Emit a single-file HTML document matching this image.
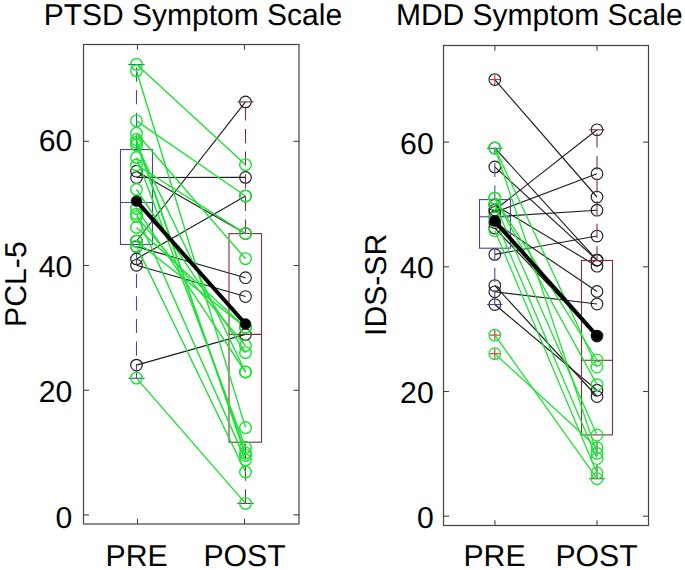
<!DOCTYPE html>
<html><head><meta charset="utf-8"><style>
html,body{margin:0;padding:0;background:#fff;}
body{width:685px;height:570px;overflow:hidden;}
svg{display:block;font-family:"Liberation Sans", sans-serif;text-rendering:geometricPrecision;}
</style></head><body>
<svg width="685" height="570" viewBox="0 0 685 570">
<rect width="685" height="570" fill="#fff"/>
<rect x="83.50" y="44.50" width="215.50" height="479.50" fill="none" stroke="#444444" stroke-width="1.2"/>
<line x1="83.50" y1="514.90" x2="89.00" y2="514.90" stroke="#444444" stroke-width="1.1" />
<line x1="299.00" y1="514.90" x2="293.50" y2="514.90" stroke="#444444" stroke-width="1.1" />
<text x="72.30" y="527.50" font-size="30.2" text-anchor="end" >0</text>
<line x1="83.50" y1="390.30" x2="89.00" y2="390.30" stroke="#444444" stroke-width="1.1" />
<line x1="299.00" y1="390.30" x2="293.50" y2="390.30" stroke="#444444" stroke-width="1.1" />
<text x="72.30" y="402.00" font-size="30.2" text-anchor="end" >20</text>
<line x1="83.50" y1="265.50" x2="89.00" y2="265.50" stroke="#444444" stroke-width="1.1" />
<line x1="299.00" y1="265.50" x2="293.50" y2="265.50" stroke="#444444" stroke-width="1.1" />
<text x="72.30" y="276.90" font-size="30.2" text-anchor="end" >40</text>
<line x1="83.50" y1="141.30" x2="89.00" y2="141.30" stroke="#444444" stroke-width="1.1" />
<line x1="299.00" y1="141.30" x2="293.50" y2="141.30" stroke="#444444" stroke-width="1.1" />
<text x="72.30" y="151.25" font-size="30.2" text-anchor="end" >60</text>
<line x1="137.50" y1="524.00" x2="137.50" y2="518.80" stroke="#444444" stroke-width="1.1" />
<line x1="137.50" y1="44.50" x2="137.50" y2="49.70" stroke="#444444" stroke-width="1.1" />
<text x="136.60" y="565.90" font-size="30.2" text-anchor="middle" >PRE</text>
<line x1="244.50" y1="524.00" x2="244.50" y2="518.80" stroke="#444444" stroke-width="1.1" />
<line x1="244.50" y1="44.50" x2="244.50" y2="49.70" stroke="#444444" stroke-width="1.1" />
<text x="244.50" y="565.90" font-size="30.2" text-anchor="middle" >POST</text>
<line x1="136.50" y1="241.00" x2="245.50" y2="101.90" stroke="#1e1e1e" stroke-width="1.15" />
<circle cx="136.50" cy="241.00" r="5.8" stroke="#1e1e1e" stroke-width="1.15" fill="none"/>
<circle cx="245.50" cy="101.90" r="5.8" stroke="#1e1e1e" stroke-width="1.15" fill="none"/>
<line x1="136.50" y1="177.50" x2="245.50" y2="177.40" stroke="#1e1e1e" stroke-width="1.15" />
<circle cx="136.50" cy="177.50" r="5.8" stroke="#1e1e1e" stroke-width="1.15" fill="none"/>
<circle cx="245.50" cy="177.40" r="5.8" stroke="#1e1e1e" stroke-width="1.15" fill="none"/>
<line x1="136.50" y1="171.20" x2="245.50" y2="233.60" stroke="#1e1e1e" stroke-width="1.15" />
<circle cx="136.50" cy="171.20" r="5.8" stroke="#1e1e1e" stroke-width="1.15" fill="none"/>
<circle cx="245.50" cy="233.60" r="5.8" stroke="#1e1e1e" stroke-width="1.15" fill="none"/>
<line x1="136.50" y1="246.60" x2="245.50" y2="277.70" stroke="#1e1e1e" stroke-width="1.15" />
<circle cx="136.50" cy="246.60" r="5.8" stroke="#1e1e1e" stroke-width="1.15" fill="none"/>
<circle cx="245.50" cy="277.70" r="5.8" stroke="#1e1e1e" stroke-width="1.15" fill="none"/>
<line x1="136.50" y1="265.30" x2="245.50" y2="296.50" stroke="#1e1e1e" stroke-width="1.15" />
<circle cx="136.50" cy="265.30" r="5.8" stroke="#1e1e1e" stroke-width="1.15" fill="none"/>
<circle cx="245.50" cy="296.50" r="5.8" stroke="#1e1e1e" stroke-width="1.15" fill="none"/>
<line x1="136.50" y1="258.90" x2="245.50" y2="196.00" stroke="#1e1e1e" stroke-width="1.15" />
<circle cx="136.50" cy="258.90" r="5.8" stroke="#1e1e1e" stroke-width="1.15" fill="none"/>
<circle cx="245.50" cy="196.00" r="5.8" stroke="#1e1e1e" stroke-width="1.15" fill="none"/>
<line x1="136.50" y1="365.10" x2="245.50" y2="334.40" stroke="#1e1e1e" stroke-width="1.15" />
<circle cx="136.50" cy="365.10" r="5.8" stroke="#1e1e1e" stroke-width="1.15" fill="none"/>
<circle cx="245.50" cy="334.40" r="5.8" stroke="#1e1e1e" stroke-width="1.15" fill="none"/>
<path d="M136.50 149.50 L136.50 64.50" stroke="#4a4a92" stroke-width="1.1" fill="none" stroke-dasharray="14.2 8.4"/>
<path d="M136.50 378.30 L136.50 244.50" stroke="#4a4a92" stroke-width="1.1" fill="none" stroke-dasharray="14.2 8.4"/>
<line x1="128.40" y1="64.50" x2="144.60" y2="64.50" stroke="#4a4a92" stroke-width="1.1" />
<line x1="128.40" y1="378.30" x2="144.60" y2="378.30" stroke="#4a4a92" stroke-width="1.1" />
<rect x="120.50" y="149.50" width="32.00" height="95.00" fill="none" stroke="#4a4a92" stroke-width="1.1"/>
<line x1="120.50" y1="202.50" x2="152.50" y2="202.50" stroke="#4a4a92" stroke-width="1.1" />
<path d="M245.50 233.60 L245.50 101.90" stroke="#7c3040" stroke-width="1.1" fill="none" stroke-dasharray="14.2 8.4"/>
<path d="M245.50 503.40 L245.50 442.20" stroke="#7c3040" stroke-width="1.1" fill="none" stroke-dasharray="14.2 8.4"/>
<line x1="237.40" y1="101.90" x2="253.60" y2="101.90" stroke="#7c3040" stroke-width="1.1" />
<line x1="237.40" y1="503.40" x2="253.60" y2="503.40" stroke="#7c3040" stroke-width="1.1" />
<rect x="229.00" y="233.60" width="32.50" height="208.60" fill="none" stroke="#7c3040" stroke-width="1.1"/>
<line x1="229.00" y1="334.40" x2="261.50" y2="334.40" stroke="#7c3040" stroke-width="1.1" />
<line x1="136.50" y1="64.30" x2="245.50" y2="164.70" stroke="rgb(28,226,52)" stroke-width="1.4" />
<circle cx="136.50" cy="64.30" r="5.8" stroke="rgb(28,226,52)" stroke-width="1.4" fill="none"/>
<circle cx="245.50" cy="164.70" r="5.8" stroke="rgb(28,226,52)" stroke-width="1.4" fill="none"/>
<line x1="136.50" y1="70.80" x2="245.50" y2="427.60" stroke="rgb(28,226,52)" stroke-width="1.4" />
<circle cx="136.50" cy="70.80" r="5.8" stroke="rgb(28,226,52)" stroke-width="1.4" fill="none"/>
<circle cx="245.50" cy="427.60" r="5.8" stroke="rgb(28,226,52)" stroke-width="1.4" fill="none"/>
<line x1="136.50" y1="120.90" x2="245.50" y2="196.00" stroke="rgb(28,226,52)" stroke-width="1.4" />
<circle cx="136.50" cy="120.90" r="5.8" stroke="rgb(28,226,52)" stroke-width="1.4" fill="none"/>
<circle cx="245.50" cy="196.00" r="5.8" stroke="rgb(28,226,52)" stroke-width="1.4" fill="none"/>
<line x1="136.50" y1="133.30" x2="245.50" y2="258.70" stroke="rgb(28,226,52)" stroke-width="1.4" />
<circle cx="136.50" cy="133.30" r="5.8" stroke="rgb(28,226,52)" stroke-width="1.4" fill="none"/>
<circle cx="245.50" cy="258.70" r="5.8" stroke="rgb(28,226,52)" stroke-width="1.4" fill="none"/>
<line x1="136.50" y1="165.00" x2="245.50" y2="233.60" stroke="rgb(28,226,52)" stroke-width="1.4" />
<circle cx="136.50" cy="165.00" r="5.8" stroke="rgb(28,226,52)" stroke-width="1.4" fill="none"/>
<circle cx="245.50" cy="233.60" r="5.8" stroke="rgb(28,226,52)" stroke-width="1.4" fill="none"/>
<line x1="136.50" y1="378.10" x2="245.50" y2="503.40" stroke="rgb(28,226,52)" stroke-width="1.4" />
<circle cx="136.50" cy="378.10" r="5.8" stroke="rgb(28,226,52)" stroke-width="1.4" fill="none"/>
<circle cx="245.50" cy="503.40" r="5.8" stroke="rgb(28,226,52)" stroke-width="1.4" fill="none"/>
<line x1="136.50" y1="139.60" x2="245.50" y2="455.40" stroke="rgb(28,226,52)" stroke-width="1.4" />
<circle cx="136.50" cy="139.60" r="5.8" stroke="rgb(28,226,52)" stroke-width="1.4" fill="none"/>
<circle cx="245.50" cy="455.40" r="5.8" stroke="rgb(28,226,52)" stroke-width="1.4" fill="none"/>
<line x1="136.50" y1="142.30" x2="245.50" y2="452.90" stroke="rgb(28,226,52)" stroke-width="1.4" />
<circle cx="136.50" cy="142.30" r="5.8" stroke="rgb(28,226,52)" stroke-width="1.4" fill="none"/>
<circle cx="245.50" cy="452.90" r="5.8" stroke="rgb(28,226,52)" stroke-width="1.4" fill="none"/>
<line x1="136.50" y1="145.10" x2="245.50" y2="372.00" stroke="rgb(28,226,52)" stroke-width="1.4" />
<circle cx="136.50" cy="145.10" r="5.8" stroke="rgb(28,226,52)" stroke-width="1.4" fill="none"/>
<circle cx="245.50" cy="372.00" r="5.8" stroke="rgb(28,226,52)" stroke-width="1.4" fill="none"/>
<line x1="136.50" y1="157.50" x2="245.50" y2="447.30" stroke="rgb(28,226,52)" stroke-width="1.4" />
<circle cx="136.50" cy="157.50" r="5.8" stroke="rgb(28,226,52)" stroke-width="1.4" fill="none"/>
<circle cx="245.50" cy="447.30" r="5.8" stroke="rgb(28,226,52)" stroke-width="1.4" fill="none"/>
<line x1="136.50" y1="214.00" x2="245.50" y2="459.90" stroke="rgb(28,226,52)" stroke-width="1.4" />
<circle cx="136.50" cy="214.00" r="5.8" stroke="rgb(28,226,52)" stroke-width="1.4" fill="none"/>
<circle cx="245.50" cy="459.90" r="5.8" stroke="rgb(28,226,52)" stroke-width="1.4" fill="none"/>
<line x1="136.50" y1="208.40" x2="245.50" y2="372.00" stroke="rgb(28,226,52)" stroke-width="1.4" />
<circle cx="136.50" cy="208.40" r="5.8" stroke="rgb(28,226,52)" stroke-width="1.4" fill="none"/>
<circle cx="245.50" cy="372.00" r="5.8" stroke="rgb(28,226,52)" stroke-width="1.4" fill="none"/>
<line x1="136.50" y1="189.50" x2="245.50" y2="352.70" stroke="rgb(28,226,52)" stroke-width="1.4" />
<circle cx="136.50" cy="189.50" r="5.8" stroke="rgb(28,226,52)" stroke-width="1.4" fill="none"/>
<circle cx="245.50" cy="352.70" r="5.8" stroke="rgb(28,226,52)" stroke-width="1.4" fill="none"/>
<line x1="136.50" y1="216.50" x2="245.50" y2="345.70" stroke="rgb(28,226,52)" stroke-width="1.4" />
<circle cx="136.50" cy="216.50" r="5.8" stroke="rgb(28,226,52)" stroke-width="1.4" fill="none"/>
<circle cx="245.50" cy="345.70" r="5.8" stroke="rgb(28,226,52)" stroke-width="1.4" fill="none"/>
<line x1="136.50" y1="246.20" x2="245.50" y2="472.00" stroke="rgb(28,226,52)" stroke-width="1.4" />
<circle cx="136.50" cy="246.20" r="5.8" stroke="rgb(28,226,52)" stroke-width="1.4" fill="none"/>
<circle cx="245.50" cy="472.00" r="5.8" stroke="rgb(28,226,52)" stroke-width="1.4" fill="none"/>
<line x1="136.50" y1="241.30" x2="245.50" y2="327.40" stroke="rgb(28,226,52)" stroke-width="1.4" />
<circle cx="136.50" cy="241.30" r="5.8" stroke="rgb(28,226,52)" stroke-width="1.4" fill="none"/>
<circle cx="245.50" cy="327.40" r="5.8" stroke="rgb(28,226,52)" stroke-width="1.4" fill="none"/>
<line x1="136.50" y1="227.40" x2="245.50" y2="327.40" stroke="rgb(28,226,52)" stroke-width="1.4" />
<circle cx="136.50" cy="227.40" r="5.8" stroke="rgb(28,226,52)" stroke-width="1.4" fill="none"/>
<circle cx="245.50" cy="327.40" r="5.8" stroke="rgb(28,226,52)" stroke-width="1.4" fill="none"/>
<line x1="136.50" y1="201.10" x2="245.50" y2="324.00" stroke="#000" stroke-width="4.0" />
<circle cx="136.50" cy="201.10" r="5.4" stroke="#000" stroke-width="0.5" fill="#000"/>
<circle cx="245.50" cy="324.00" r="5.4" stroke="#000" stroke-width="0.5" fill="#000"/>
<text x="192.90" y="25.00" font-size="30.0" text-anchor="middle" >PTSD Symptom Scale</text>
<text x="0" y="0" font-size="30.2" text-anchor="middle" transform="translate(25.80,284.10) rotate(-90)">PCL-5</text>
<rect x="443.50" y="45.50" width="205.00" height="480.00" fill="none" stroke="#444444" stroke-width="1.2"/>
<line x1="443.50" y1="516.20" x2="449.00" y2="516.20" stroke="#444444" stroke-width="1.1" />
<line x1="648.50" y1="516.20" x2="643.00" y2="516.20" stroke="#444444" stroke-width="1.1" />
<text x="433.70" y="527.60" font-size="30.2" text-anchor="end" >0</text>
<line x1="443.50" y1="391.50" x2="449.00" y2="391.50" stroke="#444444" stroke-width="1.1" />
<line x1="648.50" y1="391.50" x2="643.00" y2="391.50" stroke="#444444" stroke-width="1.1" />
<text x="433.70" y="403.15" font-size="30.2" text-anchor="end" >20</text>
<line x1="443.50" y1="266.80" x2="449.00" y2="266.80" stroke="#444444" stroke-width="1.1" />
<line x1="648.50" y1="266.80" x2="643.00" y2="266.80" stroke="#444444" stroke-width="1.1" />
<text x="433.70" y="278.20" font-size="30.2" text-anchor="end" >40</text>
<line x1="443.50" y1="142.10" x2="449.00" y2="142.10" stroke="#444444" stroke-width="1.1" />
<line x1="648.50" y1="142.10" x2="643.00" y2="142.10" stroke="#444444" stroke-width="1.1" />
<text x="433.70" y="153.75" font-size="30.2" text-anchor="end" >60</text>
<line x1="494.90" y1="525.50" x2="494.90" y2="520.30" stroke="#444444" stroke-width="1.1" />
<line x1="494.90" y1="45.50" x2="494.90" y2="50.70" stroke="#444444" stroke-width="1.1" />
<text x="494.50" y="565.90" font-size="30.2" text-anchor="middle" >PRE</text>
<line x1="597.00" y1="525.50" x2="597.00" y2="520.30" stroke="#444444" stroke-width="1.1" />
<line x1="597.00" y1="45.50" x2="597.00" y2="50.70" stroke="#444444" stroke-width="1.1" />
<text x="596.60" y="565.90" font-size="30.2" text-anchor="middle" >POST</text>
<line x1="494.80" y1="79.60" x2="597.00" y2="197.00" stroke="#1e1e1e" stroke-width="1.15" />
<circle cx="494.80" cy="79.60" r="5.8" stroke="#1e1e1e" stroke-width="1.15" fill="none"/>
<circle cx="597.00" cy="197.00" r="5.8" stroke="#1e1e1e" stroke-width="1.15" fill="none"/>
<line x1="494.80" y1="148.00" x2="597.00" y2="260.10" stroke="#1e1e1e" stroke-width="1.15" />
<circle cx="494.80" cy="148.00" r="5.8" stroke="#1e1e1e" stroke-width="1.15" fill="none"/>
<circle cx="597.00" cy="260.10" r="5.8" stroke="#1e1e1e" stroke-width="1.15" fill="none"/>
<line x1="494.80" y1="166.90" x2="597.00" y2="260.10" stroke="#1e1e1e" stroke-width="1.15" />
<circle cx="494.80" cy="166.90" r="5.8" stroke="#1e1e1e" stroke-width="1.15" fill="none"/>
<circle cx="597.00" cy="260.10" r="5.8" stroke="#1e1e1e" stroke-width="1.15" fill="none"/>
<line x1="494.80" y1="210.00" x2="597.00" y2="129.80" stroke="#1e1e1e" stroke-width="1.15" />
<circle cx="494.80" cy="210.00" r="5.8" stroke="#1e1e1e" stroke-width="1.15" fill="none"/>
<circle cx="597.00" cy="129.80" r="5.8" stroke="#1e1e1e" stroke-width="1.15" fill="none"/>
<line x1="494.80" y1="212.30" x2="597.00" y2="173.70" stroke="#1e1e1e" stroke-width="1.15" />
<circle cx="494.80" cy="212.30" r="5.8" stroke="#1e1e1e" stroke-width="1.15" fill="none"/>
<circle cx="597.00" cy="173.70" r="5.8" stroke="#1e1e1e" stroke-width="1.15" fill="none"/>
<line x1="494.80" y1="216.80" x2="597.00" y2="210.20" stroke="#1e1e1e" stroke-width="1.15" />
<circle cx="494.80" cy="216.80" r="5.8" stroke="#1e1e1e" stroke-width="1.15" fill="none"/>
<circle cx="597.00" cy="210.20" r="5.8" stroke="#1e1e1e" stroke-width="1.15" fill="none"/>
<line x1="494.80" y1="205.00" x2="597.00" y2="266.20" stroke="#1e1e1e" stroke-width="1.15" />
<circle cx="494.80" cy="205.00" r="5.8" stroke="#1e1e1e" stroke-width="1.15" fill="none"/>
<circle cx="597.00" cy="266.20" r="5.8" stroke="#1e1e1e" stroke-width="1.15" fill="none"/>
<line x1="494.80" y1="254.40" x2="597.00" y2="236.00" stroke="#1e1e1e" stroke-width="1.15" />
<circle cx="494.80" cy="254.40" r="5.8" stroke="#1e1e1e" stroke-width="1.15" fill="none"/>
<circle cx="597.00" cy="236.00" r="5.8" stroke="#1e1e1e" stroke-width="1.15" fill="none"/>
<line x1="494.80" y1="222.50" x2="597.00" y2="291.40" stroke="#1e1e1e" stroke-width="1.15" />
<circle cx="494.80" cy="222.50" r="5.8" stroke="#1e1e1e" stroke-width="1.15" fill="none"/>
<circle cx="597.00" cy="291.40" r="5.8" stroke="#1e1e1e" stroke-width="1.15" fill="none"/>
<line x1="494.80" y1="291.80" x2="597.00" y2="304.00" stroke="#1e1e1e" stroke-width="1.15" />
<circle cx="494.80" cy="291.80" r="5.8" stroke="#1e1e1e" stroke-width="1.15" fill="none"/>
<circle cx="597.00" cy="304.00" r="5.8" stroke="#1e1e1e" stroke-width="1.15" fill="none"/>
<line x1="494.80" y1="285.50" x2="597.00" y2="396.50" stroke="#1e1e1e" stroke-width="1.15" />
<circle cx="494.80" cy="285.50" r="5.8" stroke="#1e1e1e" stroke-width="1.15" fill="none"/>
<circle cx="597.00" cy="396.50" r="5.8" stroke="#1e1e1e" stroke-width="1.15" fill="none"/>
<line x1="494.80" y1="304.50" x2="597.00" y2="390.20" stroke="#1e1e1e" stroke-width="1.15" />
<circle cx="494.80" cy="304.50" r="5.8" stroke="#1e1e1e" stroke-width="1.15" fill="none"/>
<circle cx="597.00" cy="390.20" r="5.8" stroke="#1e1e1e" stroke-width="1.15" fill="none"/>
<line x1="494.80" y1="228.00" x2="597.00" y2="336.00" stroke="#1e1e1e" stroke-width="1.15" />
<circle cx="494.80" cy="228.00" r="5.8" stroke="#1e1e1e" stroke-width="1.15" fill="none"/>
<circle cx="597.00" cy="336.00" r="5.8" stroke="#1e1e1e" stroke-width="1.15" fill="none"/>
<path d="M494.80 199.60 L494.80 148.30" stroke="#4a4a92" stroke-width="1.1" fill="none" stroke-dasharray="14.2 8.4"/>
<path d="M494.80 304.50 L494.80 248.20" stroke="#4a4a92" stroke-width="1.1" fill="none" stroke-dasharray="14.2 8.4"/>
<line x1="487.10" y1="148.30" x2="502.50" y2="148.30" stroke="#4a4a92" stroke-width="1.1" />
<line x1="487.10" y1="304.50" x2="502.50" y2="304.50" stroke="#4a4a92" stroke-width="1.1" />
<rect x="479.50" y="199.60" width="31.00" height="48.60" fill="none" stroke="#4a4a92" stroke-width="1.1"/>
<line x1="479.50" y1="216.80" x2="510.50" y2="216.80" stroke="#4a4a92" stroke-width="1.1" />
<path d="M597.00 260.50 L597.00 129.80" stroke="#7c3040" stroke-width="1.1" fill="none" stroke-dasharray="14.2 8.4"/>
<path d="M597.00 478.70 L597.00 434.90" stroke="#7c3040" stroke-width="1.1" fill="none" stroke-dasharray="14.2 8.4"/>
<line x1="589.30" y1="129.80" x2="604.70" y2="129.80" stroke="#7c3040" stroke-width="1.1" />
<line x1="589.30" y1="478.70" x2="604.70" y2="478.70" stroke="#7c3040" stroke-width="1.1" />
<rect x="581.50" y="260.50" width="31.00" height="174.40" fill="none" stroke="#7c3040" stroke-width="1.1"/>
<line x1="581.50" y1="360.30" x2="612.50" y2="360.30" stroke="#7c3040" stroke-width="1.1" />
<line x1="489.60" y1="79.60" x2="500.00" y2="79.60" stroke="#d62828" stroke-width="1.1" />
<line x1="494.80" y1="74.40" x2="494.80" y2="84.80" stroke="#d62828" stroke-width="1.1" />
<line x1="489.60" y1="335.10" x2="500.00" y2="335.10" stroke="#d62828" stroke-width="1.1" />
<line x1="494.80" y1="329.90" x2="494.80" y2="340.30" stroke="#d62828" stroke-width="1.1" />
<line x1="489.60" y1="353.70" x2="500.00" y2="353.70" stroke="#d62828" stroke-width="1.1" />
<line x1="494.80" y1="348.50" x2="494.80" y2="358.90" stroke="#d62828" stroke-width="1.1" />
<line x1="494.80" y1="148.00" x2="597.00" y2="453.40" stroke="rgb(28,226,52)" stroke-width="1.3" />
<circle cx="494.80" cy="148.00" r="5.8" stroke="rgb(28,226,52)" stroke-width="1.3" fill="none"/>
<circle cx="597.00" cy="453.40" r="5.8" stroke="rgb(28,226,52)" stroke-width="1.3" fill="none"/>
<line x1="494.80" y1="148.00" x2="597.00" y2="367.00" stroke="rgb(28,226,52)" stroke-width="1.3" />
<circle cx="494.80" cy="148.00" r="5.8" stroke="rgb(28,226,52)" stroke-width="1.3" fill="none"/>
<circle cx="597.00" cy="367.00" r="5.8" stroke="rgb(28,226,52)" stroke-width="1.3" fill="none"/>
<line x1="494.80" y1="335.10" x2="597.00" y2="478.70" stroke="rgb(28,226,52)" stroke-width="1.3" />
<circle cx="494.80" cy="335.10" r="5.8" stroke="rgb(28,226,52)" stroke-width="1.3" fill="none"/>
<circle cx="597.00" cy="478.70" r="5.8" stroke="rgb(28,226,52)" stroke-width="1.3" fill="none"/>
<line x1="494.80" y1="353.70" x2="597.00" y2="447.60" stroke="rgb(28,226,52)" stroke-width="1.3" />
<circle cx="494.80" cy="353.70" r="5.8" stroke="rgb(28,226,52)" stroke-width="1.3" fill="none"/>
<circle cx="597.00" cy="447.60" r="5.8" stroke="rgb(28,226,52)" stroke-width="1.3" fill="none"/>
<line x1="494.80" y1="198.10" x2="597.00" y2="360.00" stroke="rgb(28,226,52)" stroke-width="1.3" />
<circle cx="494.80" cy="198.10" r="5.8" stroke="rgb(28,226,52)" stroke-width="1.3" fill="none"/>
<circle cx="597.00" cy="360.00" r="5.8" stroke="rgb(28,226,52)" stroke-width="1.3" fill="none"/>
<line x1="494.80" y1="198.10" x2="597.00" y2="384.60" stroke="rgb(28,226,52)" stroke-width="1.3" />
<circle cx="494.80" cy="198.10" r="5.8" stroke="rgb(28,226,52)" stroke-width="1.3" fill="none"/>
<circle cx="597.00" cy="384.60" r="5.8" stroke="rgb(28,226,52)" stroke-width="1.3" fill="none"/>
<line x1="494.80" y1="204.20" x2="597.00" y2="435.00" stroke="rgb(28,226,52)" stroke-width="1.3" />
<circle cx="494.80" cy="204.20" r="5.8" stroke="rgb(28,226,52)" stroke-width="1.3" fill="none"/>
<circle cx="597.00" cy="435.00" r="5.8" stroke="rgb(28,226,52)" stroke-width="1.3" fill="none"/>
<line x1="494.80" y1="218.00" x2="597.00" y2="458.50" stroke="rgb(28,226,52)" stroke-width="1.3" />
<circle cx="494.80" cy="218.00" r="5.8" stroke="rgb(28,226,52)" stroke-width="1.3" fill="none"/>
<circle cx="597.00" cy="458.50" r="5.8" stroke="rgb(28,226,52)" stroke-width="1.3" fill="none"/>
<line x1="494.80" y1="230.60" x2="597.00" y2="472.90" stroke="rgb(28,226,52)" stroke-width="1.3" />
<circle cx="494.80" cy="230.60" r="5.8" stroke="rgb(28,226,52)" stroke-width="1.3" fill="none"/>
<circle cx="597.00" cy="472.90" r="5.8" stroke="rgb(28,226,52)" stroke-width="1.3" fill="none"/>
<line x1="494.80" y1="221.10" x2="597.00" y2="335.80" stroke="#000" stroke-width="4.0" />
<circle cx="494.80" cy="221.10" r="5.4" stroke="#000" stroke-width="0.5" fill="#000"/>
<circle cx="597.00" cy="335.80" r="5.4" stroke="#000" stroke-width="0.5" fill="#000"/>
<text x="539.30" y="25.00" font-size="30.0" text-anchor="middle" >MDD Symptom Scale</text>
<text x="0" y="0" font-size="30.2" text-anchor="middle" transform="translate(386.10,284.85) rotate(-90)">IDS-SR</text>
</svg>
</body></html>
